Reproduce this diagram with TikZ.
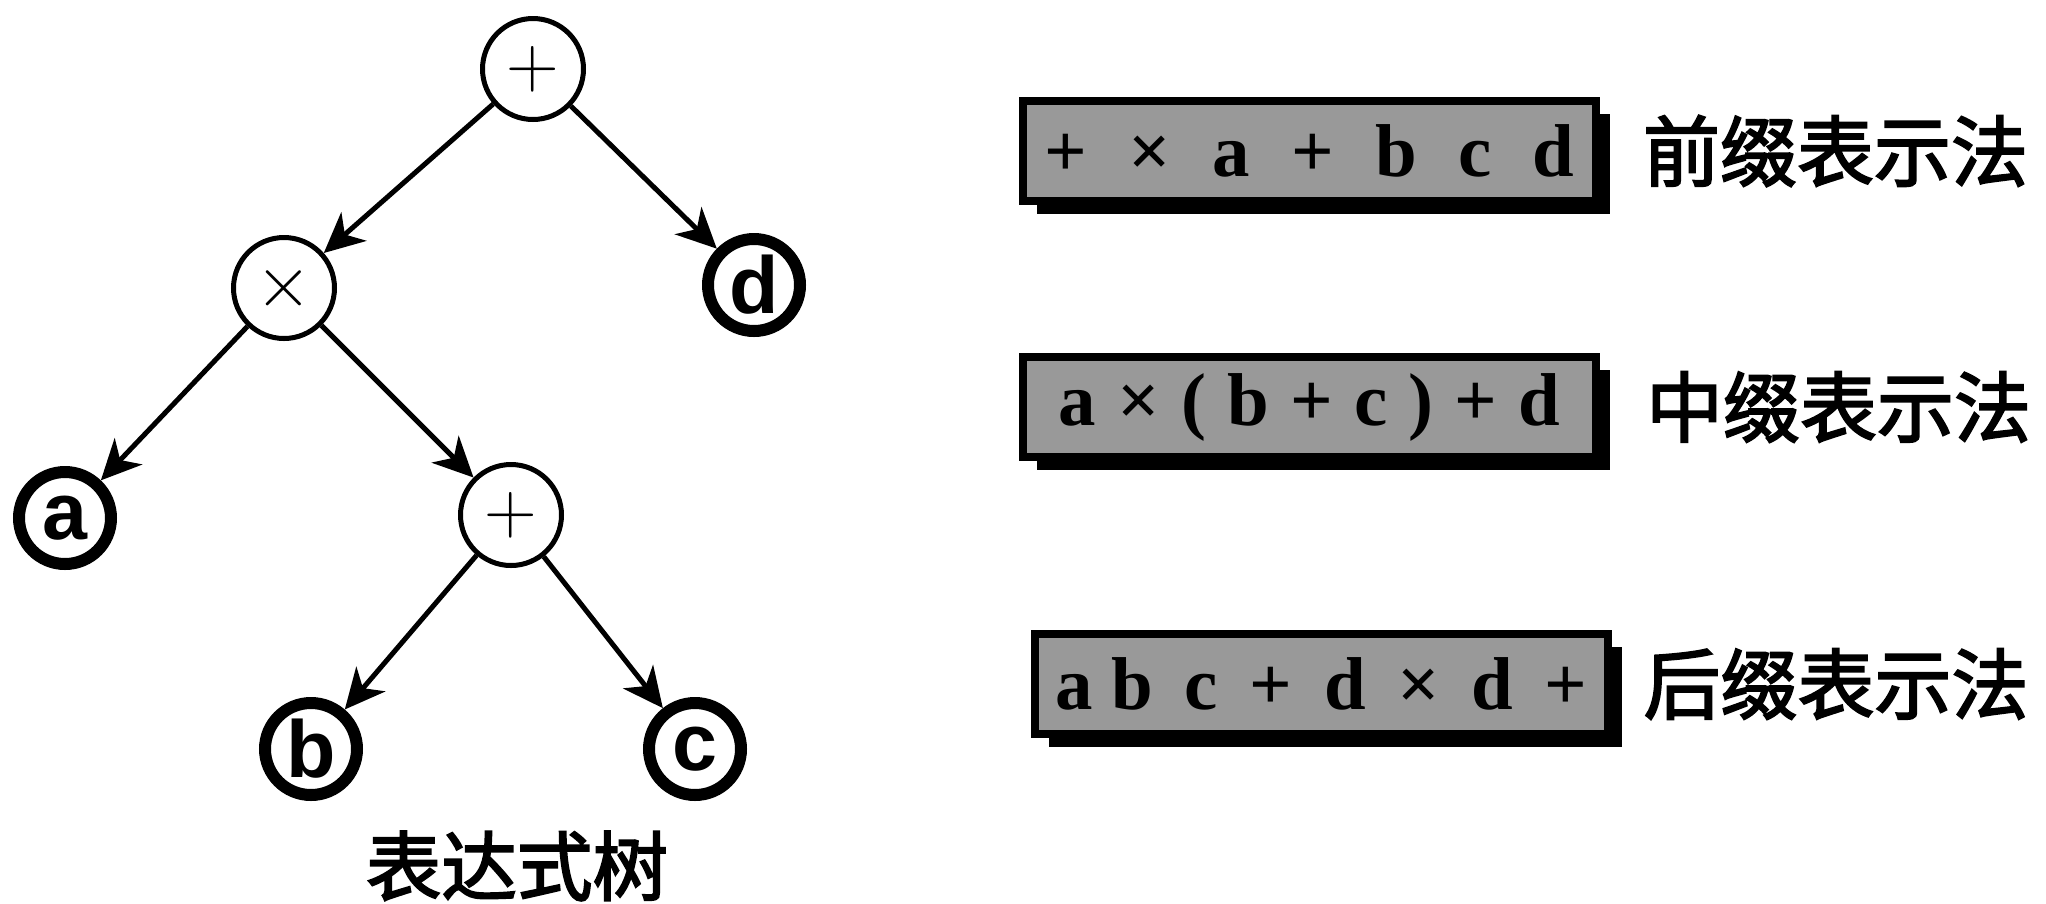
\documentclass[tikz,border=0pt]{standalone}
\usepackage{fontspec}
\setmainfont{Liberation Serif}
\newfontfamily\cjk[FakeBold=2.5]{Noto Sans CJK SC}
\newfontfamily\leaffont{Liberation Sans}
\usetikzlibrary{arrows.meta, positioning, shadows}

\begin{document}
\begin{tikzpicture}[-,>={Stealth[length=0.4cm,width=0.38cm,inset=0.12cm]},on grid,
  line width=0.05cm,
  op node/.style={circle,draw,line width=0.05cm,minimum size=1.01cm,inner sep=0pt,
    font=\fontsize{20}{20}\selectfont},
  leaf node/.style={circle,draw,line width=0.12cm,minimum size=0.92cm,inner sep=0pt,
    font=\leaffont\bfseries\fontsize{23}{23}\selectfont},
  expr box/.style={rectangle,draw,fill=black!40,line width=0.08cm,minimum width=5.73cm,
    minimum height=1.0cm,inner sep=0pt,font=\bfseries\fontsize{21.3}{22}\selectfont,
    drop shadow={shadow xshift=0.14cm,shadow yshift=-0.13cm,fill=black,opacity=1}},
  note/.style={inner sep=0pt,font=\cjk\fontsize{21.9}{22}\selectfont}]

  \useasboundingbox (0,0) rectangle (20.46,-9.03);

  % expression tree
  \node[op node] (root) at (5.33,-0.69) {$\mathbf{+}$};
  \node[op node] (times) [below left=2.19cm and 2.49cm of root] {$\times$};
  \node[leaf node] (d) [below right=2.16cm and 2.21cm of root] {d};
  \node[leaf node] (a) [below left=2.30cm and 2.19cm of times] {a};
  \node[op node] (plus) [below right=2.27cm and 2.27cm of times] {$\mathbf{+}$};
  \node[leaf node] (b) [below left=2.34cm and 2.00cm of plus] {b};
  \node[leaf node] (c) [below right=2.34cm and 1.84cm of plus] {c};
  \node[note,font=\cjk\fontsize{21.5}{22}\selectfont] (tree) [below right=3.51cm and 0.06cm of plus] {表达式树};

  \path[->]
    (root) edge (times)
           edge (d)
    (times) edge (a)
            edge (plus)
    (plus) edge (b)
           edge (c);

  % the three notations
  \node[expr box] (pre) at (13.095,-1.51) {\makebox[5.3cm][s]{+ × a + b c d}};
  \node[expr box] (in) [below=2.56cm of pre] {\makebox[5.02cm][s]{a × ( b + c ) + d}};
  \node[expr box] (post) [below right=2.77cm and 0.12cm of in] {\makebox[5.32cm][s]{a\hspace{0.25em}b c + d × d +}};

  \node[note] (prelabel) [right=5.26cm of pre] {前缀表示法};
  \node[note] (inlabel) [right=5.29cm of in] {中缀表示法};
  \node[note] (postlabel) [right=5.145cm of post] {后缀表示法};
\end{tikzpicture}
\end{document}
